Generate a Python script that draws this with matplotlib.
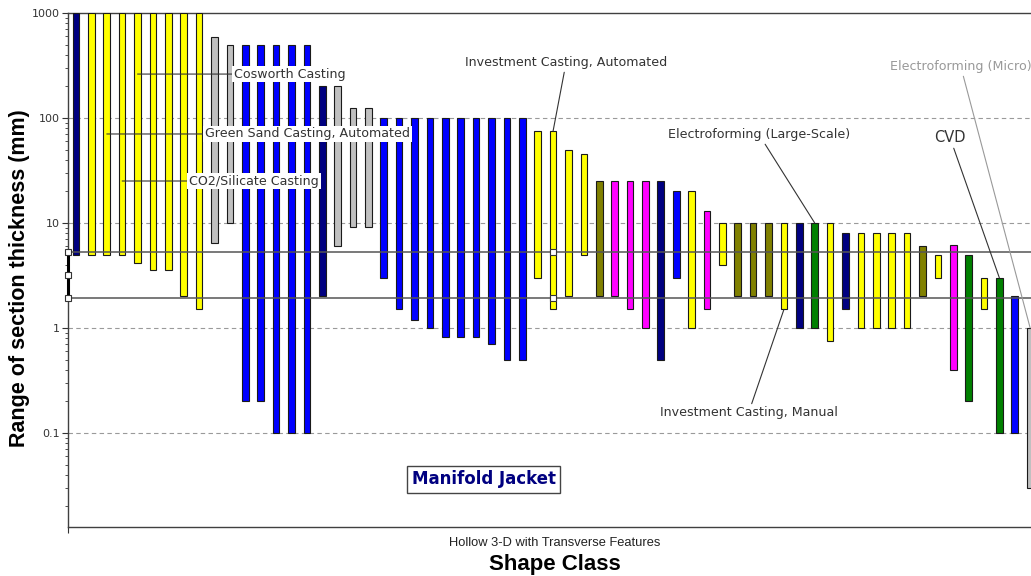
import matplotlib
matplotlib.use("Agg")
import matplotlib.pyplot as plt
import numpy as np

# ---- data ----
shape_class = ["Hollow 3-D with Transverse Features"]
bar_low = [5, 5, 5, 5, 4.2, 3.6, 3.6, 2, 1.5,
           6.5, 10, 0.2, 0.2, 0.1, 0.1, 0.1, 2, 6, 9.2, 9.2,
           3, 1.5, 1.2, 1, 0.82, 0.82, 0.82, 0.7, 0.5, 0.5,
           3, 1.5, 2, 5, 2, 2, 1.5, 1, 0.5, 3,
           1, 1.5, 4, 2, 2, 2, 1.5, 1, 1, 0.75,
           1.5, 1, 1, 1, 1, 2, 3, 0.4, 0.2, 1.5,
           0.1, 0.1, 0.03]
bar_high = [1000, 1000, 1000, 1000, 1000, 1000, 1000, 1000, 1000,
            590, 500, 500, 500, 500, 500, 500, 200, 200, 125, 125,
            100, 100, 100, 100, 100, 100, 100, 100, 100, 100,
            75, 75, 50, 45, 25, 25, 25, 25, 25, 20,
            20, 13, 10, 10, 10, 10, 10, 10, 10, 10,
            8, 8, 8, 8, 8, 6, 5, 6.2, 5, 3,
            3, 2, 1]
bar_colors = ["navy", "yellow", "yellow", "yellow", "yellow", "yellow", "yellow", "yellow", "yellow",
              "silver", "silver", "blue", "blue", "blue", "blue", "blue", "navy", "silver", "silver", "silver",
              "blue", "blue", "blue", "blue", "blue", "blue", "blue", "blue", "blue", "blue",
              "yellow", "yellow", "yellow", "yellow", "olive", "magenta", "magenta", "magenta", "navy", "blue",
              "yellow", "magenta", "yellow", "olive", "olive", "olive", "yellow", "navy", "green", "yellow",
              "navy", "yellow", "yellow", "yellow", "yellow", "olive", "yellow", "magenta", "green", "yellow",
              "green", "blue", "silver"]
target_low = 1.93
target_mid = 3.2
target_high = 5.3
grid_values = [100, 10, 1, 0.1]
ytick_values = [1000, 100, 10, 1, 0.1]
ytick_labels = ["1000", "100", "10", "1", "0.1"]

color_map = {"navy": "#000080", "yellow": "#FFFF00", "silver": "#C0C0C0", "blue": "#0000FF",
             "olive": "#808000", "magenta": "#FF00FF", "green": "#008000"}

# ---- figure ----
W, H = 1031, 576
fig = plt.figure(figsize=(W / 100, H / 100), dpi=100)
ax = fig.add_axes([68 / W, 49 / H, (1042 - 68) / W, (527 - 13) / H])

x = np.arange(len(bar_low))
lows = np.array(bar_low)
highs = np.array(bar_high)
ax.bar(x, highs - lows, bottom=lows, width=0.43,
       color=[color_map[c] for c in bar_colors], edgecolor="#1a1a1a", linewidth=0.8, zorder=3)

ax.set_yscale("log")
ax.set_ylim(0.0127, 1000)
ax.set_xlim(-0.52, 62.77)

for g in grid_values:
    ax.axhline(g, color="#9a9a9a", linestyle=(0, (4, 3)), linewidth=0.8, zorder=1)
for t in (target_low, target_high):
    ax.axhline(t, color="#555555", linewidth=1.1, zorder=4)

ax.set_yticks(ytick_values)
ax.set_yticklabels(ytick_labels, fontsize=8, color="#333333")
ax.tick_params(axis="y", which="major", length=4, width=0.8, colors="#333333", pad=2)
ax.tick_params(axis="y", which="minor", length=2, width=0.6, colors="#333333")
ax.set_xticks([31.12])
ax.set_xticklabels(shape_class, fontsize=9.3, family="Liberation Sans", color="#222222")
ax.tick_params(axis="x", which="major", length=0, pad=7)
ax.set_xticks([-0.52], minor=True)
ax.tick_params(axis="x", which="minor", length=4, width=0.8, colors="#333333")

for s in ("left", "bottom", "top"):
    ax.spines[s].set_color("#404040")
    ax.spines[s].set_linewidth(1.0)
ax.spines["right"].set_visible(False)

ax.set_ylabel("Range of section thickness (mm)", fontsize=15.5, fontweight="bold",
              family="Liberation Sans")
ax.yaxis.set_label_coords(-0.039, 0.485)
ax.set_xlabel("Shape Class", fontsize=16, fontweight="bold", family="Liberation Sans", labelpad=3.5)

# target range marker on axis
ax.plot([-0.52, -0.52], [target_low, target_high], color="black", linewidth=2.2,
        clip_on=False, zorder=5, solid_capstyle="butt")
ax.plot([-0.52] * 3, [target_high, target_mid, target_low], linestyle="none", marker="s",
        markersize=5, markerfacecolor="white", markeredgecolor="#333333", markeredgewidth=0.8,
        clip_on=False, zorder=6)
ax.plot([31, 31], [target_high, target_low], linestyle="none", marker="s",
        markersize=5, markerfacecolor="white", markeredgecolor="#333333", markeredgewidth=0.8,
        zorder=6)

txt_kw = dict(fontsize=9.1, color="#333333", family="DejaVu Sans")
line_kw = dict(arrowstyle="-", color="#333333", lw=0.8, shrinkA=0, shrinkB=0)
box = dict(boxstyle="square,pad=0.15", fc="white", ec="none")

ax.annotate("Cosworth Casting", xy=(4, 262), xytext=(10.27, 262), ha="left", va="center",
            bbox=box, arrowprops=line_kw, zorder=7, **txt_kw)
ax.annotate("Green Sand Casting, Automated", xy=(2, 70.4), xytext=(8.38, 70.4), ha="left",
            va="center", bbox=box, arrowprops=line_kw, zorder=7, **txt_kw)
ax.annotate("CO2/Silicate Casting", xy=(3, 25.1), xytext=(7.34, 25.1), ha="left", va="center",
            bbox=box, arrowprops=line_kw, zorder=7, **txt_kw)
ax.annotate("Investment Casting, Automated", xy=(31, 75), xytext=(31.84, 334), ha="center",
            va="center", arrowprops=line_kw, zorder=7, **txt_kw)
ax.annotate("Electroforming (Large-Scale)", xy=(48, 10), xytext=(44.4, 68.9), ha="center",
            va="center", arrowprops=line_kw, zorder=7, **txt_kw)
ax.annotate("CVD", xy=(60, 3), xytext=(56.8, 64.5), ha="center", va="center",
            arrowprops=line_kw, zorder=7, fontsize=10.5, color="#333333")
ax.annotate("Investment Casting, Manual", xy=(46, 1.5), xytext=(43.7, 0.155), ha="center",
            va="center", arrowprops=line_kw, zorder=7, **txt_kw)
ax.annotate("Electroforming (Micro)", xy=(62, 1), xytext=(57.5, 306), ha="center", va="center",
            arrowprops=dict(arrowstyle="-", color="#999999", lw=0.8, shrinkA=0, shrinkB=0),
            zorder=7, fontsize=9.1, color="#999999", annotation_clip=False)

ax.text(26.5, 0.036, "Manifold Jacket", ha="center", va="center", fontsize=12,
        fontweight="bold", color="#000080", zorder=7,
        bbox=dict(boxstyle="square,pad=0.28", fc="white", ec="#444444", lw=1.0))

fig.savefig("out.png", dpi=100)
